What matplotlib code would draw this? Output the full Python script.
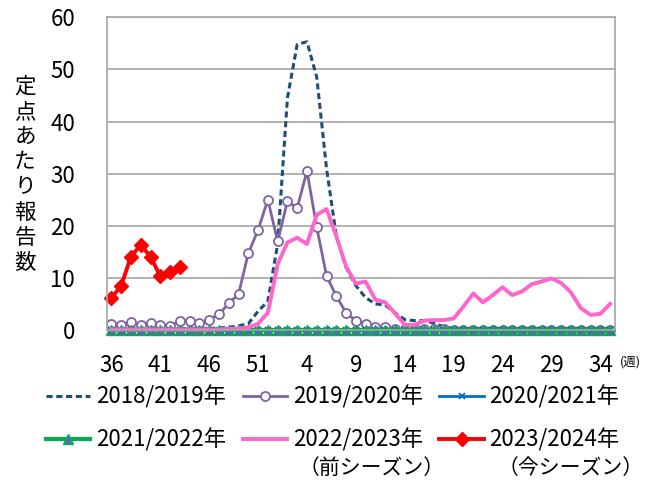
import numpy as np
import matplotlib
matplotlib.use('Agg')
import matplotlib.pyplot as plt

plt.rcParams['font.family'] = ['Noto Sans CJK JP', 'DejaVu Sans']

# week numbers from 36 to 35 of the next year
weeks = [36, 37, 38, 39, 40, 41, 42, 43, 44, 45, 46, 47, 48, 49, 50, 51, 52,
         1, 2, 3, 4, 5, 6, 7, 8, 9, 10, 11, 12, 13, 14, 15, 16, 17, 18, 19,
         20, 21, 22, 23, 24, 25, 26, 27, 28, 29, 30, 31, 32, 33, 34, 35]
tick_weeks = [36, 41, 46, 51, 4, 9, 14, 19, 24, 29, 34]

s2018 = [0.2, 0.2, 0.2, 0.2, 0.2, 0.2, 0.2, 0.2, 0.3, 0.3, 0.3, 0.4,
         0.5, 0.8, 1.2, 3.6, 5.5, 16.5, 44.5, 54.8, 55.3, 48.5,
         31.0, 18.0, 12.0, 8.5, 6.2, 5.0, 4.8, 3.3, 2.0, 1.8,
         1.8, 1.3, 0.6, 0.3, 0.3, 0.3, 0.3, 0.3, 0.3, 0.3,
         0.3, 0.3, 0.3, 0.3, 0.3, 0.3, 0.3, 0.3, 0.3, 0.3]
s2019 = [1.2, 1.0, 1.6, 0.9, 1.4, 0.9, 0.7, 1.8, 1.7, 1.3,
         2.0, 3.0, 5.1, 6.9, 14.7, 19.2, 25.0, 17.0, 24.7, 23.4,
         30.5, 19.7, 10.4, 6.5, 3.3, 1.8, 1.2, 0.6, 0.5, 0.1,
         0.1, 0.1, 0.1, 0.1, 0.1, 0.0, 0.0, 0.0, 0.0, 0.0,
         0.0, 0.0, 0.0, 0.0, 0.0, 0.0, 0.0, 0.0, 0.0, 0.0,
         0.0, 0.0]
s2020 = [0.0, 0.0, 0.0, 0.0, 0.0, 0.0, 0.0, 0.0, 0.0, 0.0,
         0.0, 0.0, 0.0, 0.0, 0.0, 0.0, 0.0, 0.0, 0.0, 0.0,
         0.0, 0.0, 0.0, 0.0, 0.0, 0.0, 0.0, 0.0, 0.0, 0.0,
         0.0, 0.0, 0.0, 0.0, 0.0, 0.0, 0.0, 0.0, 0.0, 0.0,
         0.0, 0.0, 0.0, 0.0, 0.0, 0.0, 0.0, 0.0, 0.0, 0.0,
         0.0, 0.0]
s2021 = [0.0, 0.0, 0.0, 0.0, 0.0, 0.0, 0.0, 0.0, 0.0, 0.0,
         0.0, 0.0, 0.0, 0.0, 0.0, 0.0, 0.0, 0.0, 0.0, 0.0,
         0.0, 0.0, 0.0, 0.0, 0.0, 0.0, 0.0, 0.0, 0.0, 0.0,
         0.0, 0.0, 0.0, 0.0, 0.0, 0.0, 0.0, 0.0, 0.0, 0.0,
         0.0, 0.0, 0.0, 0.0, 0.0, 0.0, 0.0, 0.0, 0.0, 0.0,
         0.0, 0.0]
s2022 = [0.1, 0.1, 0.1, 0.1, 0.1, 0.1, 0.1, 0.1, 0.1, 0.1,
         0.1, 0.1, 0.2, 0.3, 0.5, 1.2, 3.3, 12.6, 16.8, 17.7,
         16.5, 22.1, 23.2, 18.0, 12.2, 8.9, 9.3, 5.8, 5.3, 3.2,
         1.0, 1.0, 1.8, 1.9, 1.9, 2.2, 4.5, 7.0, 5.3, 6.7,
         8.2, 6.7, 7.4, 8.8, 9.3, 9.9, 9.0, 7.2, 4.2, 2.9,
         3.1, 5.0]
s2023 = [6.1, 8.5, 14.1, 16.3, 14.1, 10.3, 11.2, 12.0]

labels = ['2018/2019年', '2019/2020年', '2020/2021年',
          '2021/2022年', '2022/2023年', '2023/2024年']
ylabel = '定点あたり報告数'

W, H = 660, 484
fig = plt.figure(figsize=(W / 100, H / 100), dpi=100)
ax = fig.add_axes([107 / W, 1 - 330 / H, (615 - 107) / W, (330 - 17.3) / H])

x = np.arange(len(weeks))
grey = '#A6A6A6'

l18, = ax.plot(x, s2018, color='#1F4E79', lw=2.2, ls=(0, (2, 1.2)), clip_on=False)
l19, = ax.plot(x, s2019, color='#8064A2', lw=2.0, marker='o', ms=6.5,
               mfc='white', mec='#8064A2', mew=1.3, clip_on=False)
l20, = ax.plot(x, s2020, color='#0070C0', lw=2.0, marker='x', ms=5,
               mew=1.3, clip_on=False)
l21, = ax.plot(x, s2021, color='#00B050', lw=3.0, marker='^', ms=6.5,
               mfc='#4F6EAA', mec='#00B050', mew=1.0, clip_on=False)
l22, = ax.plot(x, s2022, color='#FF66CC', lw=2.8, clip_on=False)
l23, = ax.plot(np.arange(len(s2023)), s2023, color='#FF0000', lw=2.8,
               marker='D', ms=7, clip_on=False)

ax.set_xlim(-0.45, 51.5)
ax.set_ylim(0, 60)
ax.set_yticks(range(0, 61, 10))
ax.set_xticks([weeks.index(w) for w in tick_weeks])
ax.set_xticklabels([str(w) for w in tick_weeks])
ax.grid(axis='y', color=grey, lw=1.2)
ax.set_axisbelow(True)
for sp in ax.spines.values():
    sp.set_color(grey)
    sp.set_linewidth(1.2)
ax.tick_params(axis='both', length=0, labelsize=16, colors='black')
ax.tick_params(axis='y', pad=23)
ax.tick_params(axis='x', pad=17)

# vertical y label, one character per line
for i, ch in enumerate(ylabel):
    fig.text(25 / W, 1 - (87 + 25.1 * i) / H, ch, ha='center', va='center', fontsize=15.5)

fig.text(630 / W, 1 - 362 / H, '(週)', ha='center', va='center', fontsize=9)

handles = [l18, l21, l19, l22, l20, l23]
hlabels = [labels[0], labels[3], labels[1], labels[4], labels[2], labels[5]]
fig.legend(handles, hlabels, ncol=3, loc='upper left',
           bbox_to_anchor=(46 / W, 1 - 385 / H), frameon=False, fontsize=16,
           handlelength=2.0, handletextpad=0.25, columnspacing=0.75,
           labelspacing=0.9, borderpad=0, borderaxespad=0)

fig.text(299 / W, 1 - 468 / H, '（前シーズン）', ha='left', va='center', fontsize=15)
fig.text(498 / W, 1 - 468 / H, '（今シーズン）', ha='left', va='center', fontsize=15)

fig.savefig('out.png', dpi=100)
